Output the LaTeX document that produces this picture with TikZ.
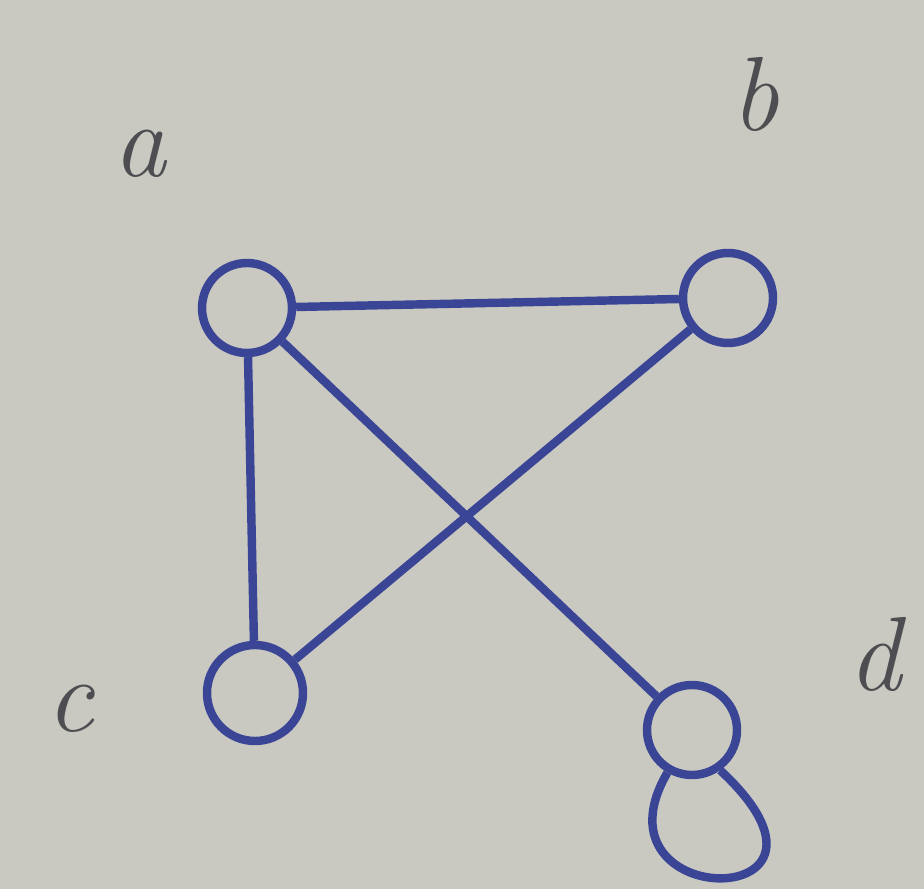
\documentclass[tikz,border=0pt]{standalone}
\usepackage{tikz}
\usetikzlibrary{arrows.meta,positioning,backgrounds}
\definecolor{Paper}{HTML}{C9C9C1}
\definecolor{Ink}{HTML}{3B4596}
\definecolor{Pencil}{HTML}{4E4E52}
\begin{document}
\begin{tikzpicture}[
vert/.style={draw=Ink,line width=2.4pt,circle,minimum size=9mm,inner sep=0pt},
edge/.style={draw=Ink,line width=2.4pt},
lbl/.style={text=Pencil,font=\fontsize{30}{30}\selectfont\itshape}]
\fill[Paper] (0,0) rectangle (9.24,8.89);
\useasboundingbox (0,0) rectangle (9.24,8.89);
\node[vert] (a) at (2.47,5.81) {};
\node[vert] (b) at (7.28,5.91) {};
\node[vert,minimum size=9.6mm] (c) at (2.55,1.96) {};
\node[vert] (d) at (6.92,1.59) {};
\node[lbl] (la) at (1.40,7.35) {a};
\node[lbl] (lb) at (7.55,7.95) {b};
\node[lbl] (lc) at (0.70,1.80) {c};
\node[lbl] (ld) at (8.75,2.35) {d};
\draw[edge] (a)--(b);\draw[edge] (a)--(c);
\draw[edge] (a)--(d);\draw[edge] (b)--(c);
% self loop under d
\draw[edge] (d.240) .. controls (5.85,-0.25) and (8.75,-0.25) .. (d.-55);
\end{tikzpicture}
\end{document}
